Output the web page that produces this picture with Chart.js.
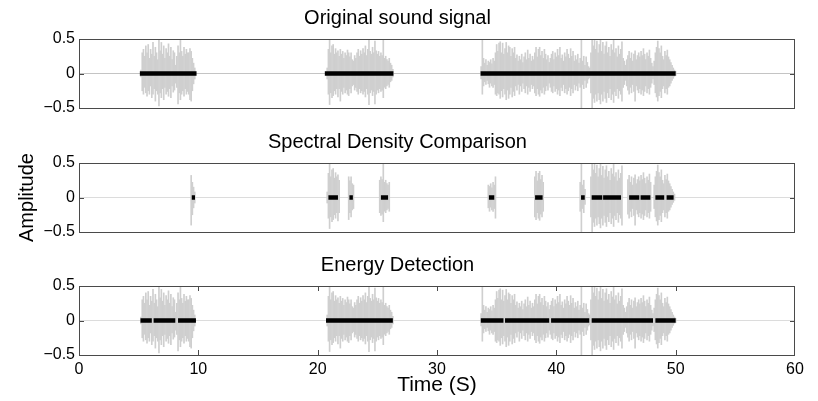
<!DOCTYPE html>
<html>
<head>
<meta charset="utf-8">
<script src="https://cdn.jsdelivr.net/npm/chart.js@4.4.0/dist/chart.umd.min.js"></script>
<style>
  html, body { margin: 0; padding: 0; background: #fff; }
  .panel { position: absolute; left: 0; width: 818px; }
  #p1 { top: 0; height: 124px; }
  #p2 { top: 124px; height: 124px; }
  #p3 { top: 247px; height: 154px; }
</style>
</head>
<body>
<div class="panel" id="p1"><canvas id="origChart"></canvas></div>
<div class="panel" id="p2"><canvas id="spectralChart"></canvas></div>
<div class="panel" id="p3"><canvas id="energyChart"></canvas></div>
<script>
// sound envelope, one sample every 0.1 s
const sampleStep = 0.1;

const burst1Start = 5.2;
const burst1Hi = [
  0.05, 0.30, 0.35, 0.25, 0.40, 0.30, 0.42, 0.22, 0.35, 0.28,
  0.45, 0.25, 0.38, 0.30, 0.20, 0.50, 0.33, 0.45, 0.28, 0.40,
  0.22, 0.36, 0.30, 0.43, 0.25, 0.38, 0.20, 0.33, 0.30, 0.12,
  0.25, 0.40, 0.30, 0.48, 0.32, 0.25, 0.38, 0.28, 0.35, 0.30,
  0.30, 0.36, 0.32, 0.22, 0.15, 0.08,
];
const burst1Lo = [
  -0.05, -0.25, -0.30, -0.20, -0.28, -0.33, -0.25, -0.30, -0.18, -0.35,
  -0.30, -0.22, -0.40, -0.25, -0.30, -0.47, -0.28, -0.35, -0.22, -0.38,
  -0.20, -0.30, -0.26, -0.33, -0.22, -0.35, -0.18, -0.27, -0.24, -0.14,
  -0.20, -0.44, -0.28, -0.38, -0.30, -0.25, -0.33, -0.22, -0.30, -0.26,
  -0.30, -0.38, -0.40, -0.25, -0.15, -0.08,
];

const burst2Start = 20.8;
const burst2Hi = [
  0.08, 0.35, 0.50, 0.30, 0.40, 0.42, 0.28, 0.36, 0.30, 0.33,
  0.25, 0.35, 0.28, 0.32, 0.22, 0.30, 0.26, 0.34, 0.30, 0.24,
  0.30, 0.20, 0.18, 0.26, 0.22, 0.30, 0.35, 0.25, 0.33, 0.28,
  0.36, 0.30, 0.40, 0.26, 0.35, 0.50, 0.32, 0.28, 0.38, 0.30,
  0.47, 0.33, 0.28, 0.32, 0.25, 0.30, 0.26, 0.50, 0.22, 0.25,
  0.20, 0.18, 0.22, 0.15, 0.12, 0.06,
];
const burst2Lo = [
  -0.08, -0.30, -0.45, -0.28, -0.35, -0.32, -0.25, -0.30, -0.22, -0.34,
  -0.22, -0.40, -0.26, -0.30, -0.20, -0.28, -0.24, -0.30, -0.32, -0.22,
  -0.28, -0.18, -0.16, -0.24, -0.20, -0.26, -0.30, -0.22, -0.28, -0.25,
  -0.30, -0.26, -0.34, -0.22, -0.30, -0.45, -0.28, -0.24, -0.32, -0.26,
  -0.44, -0.30, -0.24, -0.28, -0.22, -0.26, -0.24, -0.35, -0.20, -0.22,
  -0.18, -0.16, -0.20, -0.12, -0.10, -0.05,
];

const burst3Start = 33.7;
const burst3Hi = [
  0.10, 0.50, 0.22, 0.15, 0.20, 0.12, 0.18, 0.16, 0.20, 0.14,
  0.22, 0.18, 0.30, 0.42, 0.32, 0.44, 0.46, 0.30, 0.44, 0.28,
  0.36, 0.45, 0.30, 0.40, 0.38, 0.25, 0.36, 0.30, 0.38, 0.22,
  0.27, 0.18, 0.25, 0.20, 0.28, 0.16, 0.24, 0.30, 0.20, 0.34,
  0.22, 0.28, 0.18, 0.25, 0.20, 0.30, 0.38, 0.24, 0.35, 0.38,
  0.26, 0.32, 0.22, 0.35, 0.28, 0.20, 0.26, 0.16, 0.22, 0.28,
  0.32, 0.20, 0.30, 0.24, 0.35, 0.26, 0.38, 0.22, 0.27, 0.18,
  0.30, 0.24, 0.35, 0.28, 0.22, 0.36, 0.25, 0.32, 0.18, 0.26,
  0.20, 0.28, 0.15, 0.22, 0.60, 0.18, 0.25, 0.12, 0.24, 0.16,
  0.10, 0.08, 0.30, 0.60, 0.40, 0.48, 0.35, 0.47, 0.30, 0.42,
  0.50, 0.32, 0.45, 0.28, 0.40, 0.46, 0.30, 0.38, 0.25, 0.42,
  0.34, 0.48, 0.30, 0.36, 0.24, 0.40, 0.28, 0.35, 0.46, 0.22,
  0.18, 0.12, 0.20, 0.26, 0.32, 0.22, 0.30, 0.18, 0.28, 0.33,
  0.20, 0.26, 0.30, 0.24, 0.32, 0.26, 0.36, 0.28, 0.20, 0.30,
  0.25, 0.34, 0.22, 0.15, 0.10, 0.18, 0.30, 0.38, 0.47, 0.36,
  0.30, 0.40, 0.25, 0.20, 0.32, 0.26, 0.34, 0.24, 0.20, 0.16,
  0.12, 0.08, 0.05, 0.03,
];
const burst3Lo = [
  -0.08, -0.30, -0.18, -0.12, -0.16, -0.10, -0.15, -0.20, -0.14, -0.18,
  -0.20, -0.16, -0.30, -0.32, -0.28, -0.30, -0.36, -0.25, -0.34, -0.22,
  -0.30, -0.38, -0.24, -0.36, -0.30, -0.20, -0.34, -0.26, -0.32, -0.18,
  -0.24, -0.16, -0.30, -0.18, -0.26, -0.14, -0.22, -0.28, -0.18, -0.30,
  -0.20, -0.26, -0.16, -0.22, -0.18, -0.28, -0.32, -0.22, -0.30, -0.33,
  -0.24, -0.28, -0.20, -0.30, -0.25, -0.18, -0.24, -0.14, -0.20, -0.26,
  -0.28, -0.18, -0.26, -0.22, -0.30, -0.24, -0.32, -0.20, -0.25, -0.16,
  -0.28, -0.22, -0.30, -0.25, -0.20, -0.32, -0.22, -0.28, -0.16, -0.24,
  -0.18, -0.25, -0.14, -0.20, -0.60, -0.16, -0.22, -0.10, -0.20, -0.14,
  -0.08, -0.06, -0.28, -0.60, -0.36, -0.42, -0.30, -0.40, -0.28, -0.38,
  -0.44, -0.30, -0.40, -0.26, -0.36, -0.42, -0.28, -0.35, -0.22, -0.38,
  -0.30, -0.42, -0.26, -0.32, -0.22, -0.36, -0.25, -0.30, -0.40, -0.20,
  -0.16, -0.10, -0.18, -0.24, -0.30, -0.20, -0.28, -0.16, -0.26, -0.40,
  -0.18, -0.24, -0.28, -0.22, -0.30, -0.24, -0.32, -0.26, -0.18, -0.28,
  -0.22, -0.30, -0.20, -0.14, -0.08, -0.16, -0.28, -0.34, -0.40, -0.32,
  -0.26, -0.35, -0.22, -0.18, -0.28, -0.22, -0.30, -0.20, -0.18, -0.14,
  -0.10, -0.07, -0.04, -0.03,
];

// detected segments [start, end] in seconds
const origSegments = [[5.1, 9.85], [20.6, 26.35], [33.65, 50.0]];
const spectralSegments = [
  [9.45, 9.72], [20.9, 21.7], [22.66, 22.95], [25.3, 25.9],
  [34.35, 34.8], [38.22, 38.85], [42.07, 42.38], [42.96, 43.85],
  [43.92, 45.42], [46.1, 46.95], [47.06, 47.88], [48.3, 49.04], [49.24, 49.83],
];
const energySegments = [
  [5.15, 6.1], [6.25, 8.07], [8.3, 9.8], [20.7, 26.3],
  [33.67, 35.57], [35.7, 39.4], [39.56, 42.76], [42.96, 48.1], [48.3, 50.0],
];

const xTicks = [0, 10, 20, 30, 40, 50, 60];
const yTicks = [-0.5, 0, 0.5];

const panelTitles = ['Original sound signal', 'Spectral Density Comparison', 'Energy Detection'];

Chart.defaults.font.family = '"Liberation Sans", Arial, sans-serif';
Chart.defaults.color = '#000';

const buildSignal = () => {
  const out = [];
  const bursts = [
    [burst1Start, burst1Hi, burst1Lo],
    [burst2Start, burst2Hi, burst2Lo],
    [burst3Start, burst3Hi, burst3Lo],
  ];
  bursts.forEach(([start, hi, lo]) => {
    hi.forEach((h, i) => {
      out.push({ x: +(start + i * sampleStep).toFixed(2), y: [lo[i], h] });
    });
  });
  return out;
};

const signal = buildSignal();

const inSegments = (t, segs, pad) =>
  segs.some(([s, e]) => t >= s - pad && t <= e + pad);

const segmentLine = (segs) => {
  const pts = [];
  segs.forEach(([s, e]) => {
    pts.push({ x: s, y: 0 }, { x: e, y: 0 }, { x: e, y: null });
  });
  return pts;
};

// matlab style box with inward ticks
const boxPlugin = {
  id: 'box',
  afterDatasetsDraw(chart, args, opts) {
    const { ctx, chartArea: a, scales } = chart;
    ctx.save();
    ctx.strokeStyle = '#4a4a4a';
    ctx.lineWidth = 1;
    ctx.strokeRect(a.left + 0.5, a.top + 0.5, a.width - 1, a.height);
    ctx.beginPath();
    const y0 = Math.round(scales.y.getPixelForValue(0)) + 0.5;
    ctx.moveTo(a.left, y0);
    ctx.lineTo(a.left + 5, y0);
    ctx.moveTo(a.right, y0);
    ctx.lineTo(a.right - 5, y0);
    if (opts.xTicks) {
      xTicks.slice(1, -1).forEach((v) => {
        const px = Math.round(scales.x.getPixelForValue(v)) + 0.5;
        ctx.moveTo(px, a.top);
        ctx.lineTo(px, a.top + 5);
        ctx.moveTo(px, a.bottom);
        ctx.lineTo(px, a.bottom - 5);
      });
    }
    ctx.stroke();
    ctx.restore();
  },
};

const makePanel = (id, title, waveData, segs, opt) => {
  const ctx = document.getElementById(id).getContext('2d');
  new Chart(ctx, {
    type: 'bar',
    data: {
      datasets: [
        {
          type: 'line',
          data: segmentLine(segs),
          borderColor: '#000',
          borderWidth: 4.5,
          borderCapStyle: 'butt',
          pointRadius: 0,
          spanGaps: false,
          tension: 0,
          order: 0,
        },
        {
          type: 'bar',
          data: waveData,
          backgroundColor: '#cfcfcf',
          barThickness: 1,
          grouped: false,
          order: 1,
        },
      ],
    },
    options: {
      animation: false,
      responsive: true,
      maintainAspectRatio: false,
      events: [],
      layout: {
        padding: { left: 0, right: 23, top: 0, bottom: opt.showX ? 0 : 16 },
      },
      plugins: {
        legend: { display: false },
        tooltip: { enabled: false },
        title: {
          display: true,
          text: title,
          font: { size: 20, weight: 'normal' },
          color: '#000',
          padding: { top: 6, bottom: 9 },
        },
        box: { xTicks: opt.showX },
      },
      scales: {
        x: {
          type: 'linear',
          min: 0,
          max: 60,
          offset: false,
          display: opt.showX,
          afterFit: (scale) => {
            scale.height = opt.showX ? 46 : 0;
          },
          afterBuildTicks: (scale) => {
            scale.ticks = xTicks.map((v) => ({ value: v }));
          },
          grid: { display: false, drawTicks: false },
          border: { display: false },
          ticks: { font: { size: 16 }, padding: 5, maxRotation: 0 },
          title: {
            display: opt.showX,
            text: 'Time (S)',
            font: { size: 21 },
            padding: { top: 0, bottom: 3 },
          },
        },
        y: {
          min: -0.5,
          max: 0.5,
          afterFit: (scale) => {
            scale.width = 79;
          },
          afterBuildTicks: (scale) => {
            scale.ticks = yTicks.map((v) => ({ value: v }));
          },
          border: { display: false },
          grid: {
            drawTicks: false,
            color: (c) => (c.tick && c.tick.value === 0 ? opt.zeroColor : 'rgba(0,0,0,0)'),
          },
          ticks: {
            font: { size: 16 },
            padding: 4,
            callback: (v) => (v === 0 ? '0' : (v < 0 ? '\u2212' : '') + Math.abs(v)),
          },
          title: {
            display: opt.showY,
            text: 'Amplitude',
            font: { size: 20 },
            padding: { top: 15, bottom: 0 },
          },
        },
      },
    },
    plugins: [boxPlugin],
  });
};

window.addEventListener('load', () => {
  makePanel('origChart', panelTitles[0], signal, origSegments,
    { showX: false, showY: false, zeroColor: '#c4c4c4' });
  makePanel('spectralChart', panelTitles[1],
    signal.filter((p) => inSegments(p.x, spectralSegments, 0.1)), spectralSegments,
    { showX: false, showY: true, zeroColor: '#dcdcdc' });
  makePanel('energyChart', panelTitles[2], signal, energySegments,
    { showX: true, showY: false, zeroColor: '#dcdcdc' });
});
</script>
</body>
</html>
